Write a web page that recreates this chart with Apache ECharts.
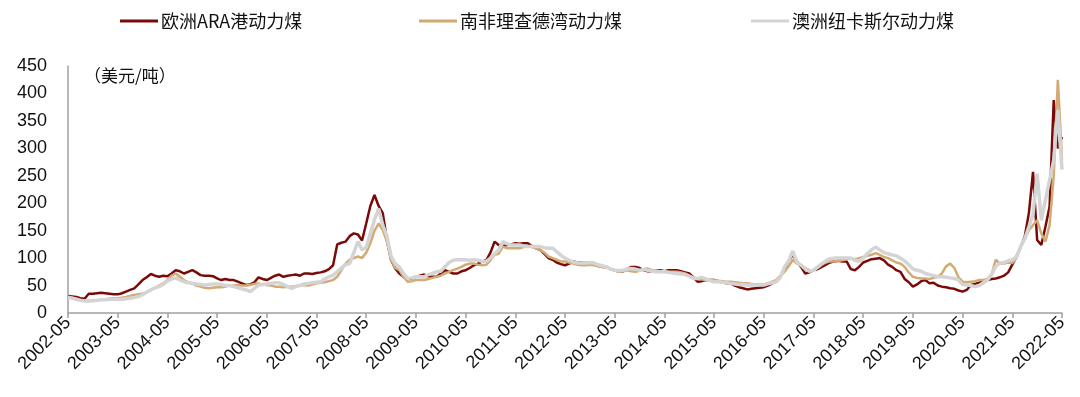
<!DOCTYPE html>
<html>
<head>
<meta charset="utf-8">
<script src="https://cdn.jsdelivr.net/npm/echarts@6/dist/echarts.min.js"></script>
<style>
  html, body { margin: 0; padding: 0; background: #fff; }
  #main { width: 1080px; height: 397px; }
</style>
</head>
<body>
<div id="main"></div>
<script>
// 月度，2002-05 到 2022-05
var months = [];
for (var y = 2002; y <= 2022; y++) {
  for (var mo = 1; mo <= 12; mo++) {
    if ((y === 2002 && mo < 5) || (y === 2022 && mo > 5)) continue;
    months.push(y + '-' + (mo < 10 ? '0' + mo : mo));
  }
}

var europeARA = [
  31, 30, 29, 27, 26, 35, 35, 36, 37, 36, 35, 34,
  34, 36, 39, 42, 45, 52, 60, 65, 71, 68, 66, 68,
  67, 72, 78, 76, 72, 75, 78, 74, 69, 68, 68, 67,
  63, 60, 62, 60, 60, 57, 54, 51, 52, 56, 65, 62,
  60, 64, 68, 70, 66, 68, 69, 70, 68, 72, 72, 71,
  73, 74, 76, 80, 87, 125, 128, 130, 140, 145, 143, 132,
  163, 195, 215, 195, 182, 133, 97, 81, 72, 66, 62, 63,
  66, 68, 70, 67, 66, 66, 72, 78, 75, 72, 72, 76,
  78, 82, 87, 90, 94, 96, 110, 130, 124, 122, 124, 125,
  127, 126, 127, 127, 122, 118, 115, 108, 100, 97, 92, 89,
  87, 90, 94, 92, 92, 91, 92, 90, 86, 84, 84, 80,
  78, 75, 76, 80, 84, 84, 82, 78, 76, 75, 77, 78,
  76, 78, 78, 78, 76, 74, 72, 65, 57, 58, 60, 60,
  60, 58, 56, 54, 54, 50, 47, 45, 43, 44, 45, 46,
  47, 50, 54, 57, 66, 80, 95, 106, 94, 84, 72, 74,
  78, 80, 84, 88, 92, 94, 95, 94, 94, 80, 78, 84,
  92, 95, 98, 99, 100, 96, 88, 84, 78, 75, 62, 56,
  48, 52, 58, 60, 54, 55, 50, 48, 47, 45, 44, 41,
  39, 42, 51, 53, 55, 57, 60, 62, 63, 65, 68, 74,
  88, 103, 120, 139, 182, 257, 133, 124, 157, 194, 388, 300,
  321
];

var southAfrica = [
  29, 28, 26, 24, 23, 22, 22, 23, 24, 25, 26, 27,
  27, 28, 29, 31, 33, 34, 35, 38, 42, 46, 50, 54,
  60, 68, 72, 66, 60, 56, 54, 50, 48, 46, 45, 46,
  47, 47, 48, 50, 50, 51, 50, 50, 51, 53, 54, 52,
  51, 50, 48, 48, 47, 48, 48, 49, 50, 51, 50, 52,
  54, 55, 56, 58, 60, 66, 78, 90, 97, 100, 103, 100,
  110, 127, 150, 163, 151, 130, 97, 82, 78, 66, 57, 58,
  60, 60, 60, 62, 64, 66, 68, 72, 75, 78, 81, 84,
  88, 90, 90, 88, 87, 88, 96, 106, 108, 121, 118, 118,
  118, 118, 120, 121, 120, 118, 115, 110, 103, 100, 97, 94,
  94, 92, 90, 88, 87, 87, 88, 87, 85, 84, 84, 80,
  78, 75, 76, 78, 76, 75, 77, 80, 81, 78, 77, 76,
  76, 75, 75, 75, 74, 72, 68, 65, 62, 61, 60, 60,
  60, 59, 58, 57, 57, 56, 55, 54, 54, 53, 52, 52,
  52, 54, 57, 60, 68, 75, 85, 97, 90, 87, 82, 78,
  78, 82, 88, 92, 94, 94, 95, 96, 98, 100, 98, 100,
  102, 104, 106, 109, 106, 102, 100, 96, 92, 90, 84, 74,
  66, 64, 63, 63, 62, 64, 66, 72, 85, 90, 82, 65,
  57, 56, 57, 58, 60, 60, 62, 70, 97, 90, 90, 92,
  91, 100, 121, 135, 151, 160, 169, 145, 130, 160, 250, 425,
  280
];

var australiaNewcastle = [
  29, 27, 25, 23, 22, 22, 23, 23, 24, 24, 25, 25,
  25, 25, 26, 27, 28, 30, 33, 38, 42, 46, 48, 52,
  58, 62, 64, 60, 57, 55, 54, 53, 52, 51, 52, 53,
  53, 52, 50, 50, 48, 46, 44, 42, 39, 45, 51, 52,
  53, 54, 55, 55, 52, 48, 45, 48, 50, 53, 54, 55,
  56, 57, 62, 66, 69, 75, 82, 88, 90, 110, 130, 115,
  120, 145, 170, 190, 160, 140, 103, 90, 84, 72, 63, 64,
  66, 66, 66, 70, 72, 75, 76, 84, 92, 96, 97, 97,
  97, 96, 97, 96, 94, 94, 100, 108, 115, 130, 126, 124,
  124, 124, 122, 121, 121, 121, 121, 119, 118, 118, 112, 105,
  100, 96, 93, 91, 91, 91, 92, 91, 88, 86, 84, 80,
  78, 77, 78, 80, 81, 80, 78, 79, 78, 76, 75, 75,
  75, 74, 73, 72, 71, 70, 67, 63, 63, 65, 62, 59,
  57, 57, 56, 55, 54, 53, 52, 52, 51, 51, 51, 51,
  51, 53, 55, 57, 65, 84, 95, 113, 92, 87, 80, 76,
  78, 84, 90, 95, 99, 100, 100, 100, 100, 100, 96, 94,
  100, 108, 115, 120, 115, 110, 108, 106, 104, 100, 95, 88,
  80, 78, 76, 72, 70, 68, 66, 66, 65, 64, 63, 60,
  52, 51, 50, 48, 50, 55, 60, 70, 85, 91, 92, 95,
  97, 102, 121, 135, 157, 180, 254, 169, 206, 242, 279, 370,
  261
];

var seriesNames = ['欧洲ARA港动力煤', '南非理查德湾动力煤', '澳洲纽卡斯尔动力煤'];
var seriesColors = ['#7a0a0a', '#d2aa74', '#d4d4d4'];
var seriesWidths = [2.5, 2.5, 3.5];
var seriesData = [europeARA, southAfrica, australiaNewcastle];
var legendLeft = [115, 414, 746];

var chart = echarts.init(document.getElementById('main'));

chart.setOption({
  backgroundColor: '#fff',
  animation: false,
  textStyle: { fontFamily: 'Liberation Sans, Noto Sans CJK SC, sans-serif' },
  // 三个图例分开放，位置贴近原图
  legend: seriesNames.map(function (name, i) {
    return {
      top: 7,
      left: legendLeft[i],
      itemWidth: 38,
      itemHeight: 3,
      itemGap: 0,
      icon: 'rect',
      textStyle: { fontSize: 18, color: '#111', fontFamily: 'Noto Sans CJK SC, sans-serif', padding: [0, 0, 0, -2] },
      data: [name]
    };
  }),
  grid: { left: 68, right: 18, top: 66, bottom: 84, containLabel: false },
  graphic: [{
    type: 'text',
    left: 84,
    top: 67,
    style: { text: '（美元/吨）', fontSize: 17, fill: '#111', fontFamily: 'Noto Sans CJK SC, sans-serif' }
  }],
  xAxis: {
    type: 'category',
    data: months,
    boundaryGap: false,
    axisLine: { lineStyle: { color: '#a0a0a0', width: 1.5 } },
    axisTick: { interval: 11, length: 5, lineStyle: { color: '#a0a0a0', width: 1.5 } },
    axisLabel: { interval: 11, rotate: 45, fontSize: 18, color: '#111', margin: 7 },
    splitLine: { show: false }
  },
  yAxis: {
    type: 'value',
    min: 0,
    max: 450,
    interval: 50,
    axisLine: { show: true, lineStyle: { color: '#a0a0a0', width: 1.5 } },
    axisTick: { show: false },
    axisLabel: { fontSize: 18, color: '#111', margin: 21 },
    splitLine: { show: false }
  },
  series: seriesNames.map(function (name, i) {
    return {
      name: name,
      type: 'line',
      data: seriesData[i],
      symbol: 'none',
      lineStyle: { color: seriesColors[i], width: seriesWidths[i] },
      itemStyle: { color: seriesColors[i] }
    };
  })
});
</script>
</body>
</html>
